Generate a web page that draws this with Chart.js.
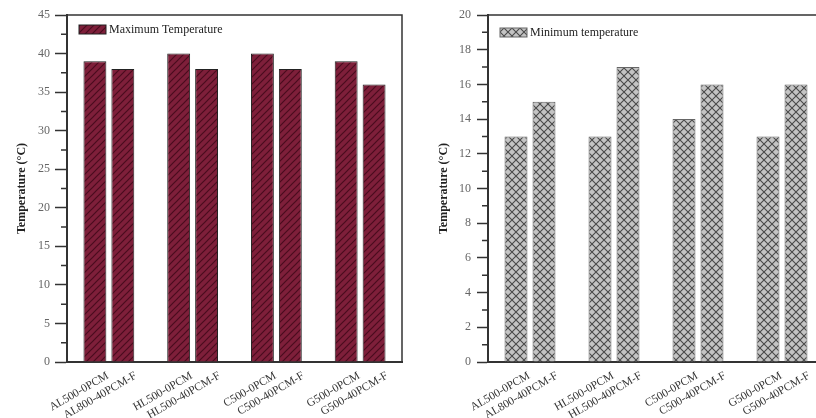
<!DOCTYPE html>
<html>
<head>
<meta charset="utf-8">
<script src="https://cdn.jsdelivr.net/npm/chart.js@4"></script>
<style>
html, body { margin: 0; padding: 0; background: #fff; overflow: hidden; width: 816px; height: 418px; }
#left { position: absolute; left: 0; top: 0; }
#right { position: absolute; left: 420px; top: 0; }
</style>
</head>
<body>
<canvas id="left" width="416" height="418"></canvas>
<canvas id="right" width="420" height="418"></canvas>
<script>
// ===== DATA =====
const samples = ['AL500-0PCM', 'AL800-40PCM-F', 'HL500-0PCM', 'HL500-40PCM-F',
                 'C500-0PCM', 'C500-40PCM-F', 'G500-0PCM', 'G500-40PCM-F'];
const maxTemp = [39, 38, 40, 38, 40, 38, 39, 36];
const minTemp = [13, 15, 13, 17, 14, 16, 13, 16];
const maxTicks = { min: 0, max: 45, step: 5 };
const minTicks = { min: 0, max: 20, step: 2 };

// pairs of bars with an empty slot before, between and after each pair
function padPairs(arr, blank) {
    const out = [blank];
    for (let i = 0; i < arr.length; i += 2) out.push(arr[i], arr[i + 1], blank);
    return out;
}

function stripes(bg, fg) {
    const c = document.createElement('canvas');
    c.width = 7; c.height = 7;
    const g = c.getContext('2d');
    g.fillStyle = bg; g.fillRect(0, 0, 7, 7);
    g.strokeStyle = fg; g.lineWidth = 1.2;
    g.beginPath();
    g.moveTo(-1, 8); g.lineTo(8, -1);
    g.moveTo(-1, 1); g.lineTo(1, -1);
    g.moveTo(6, 8); g.lineTo(8, 6);
    g.stroke();
    return g.createPattern(c, 'repeat');
}

function crosshatch(bg, fg) {
    const c = document.createElement('canvas');
    c.width = 8; c.height = 8;
    const g = c.getContext('2d');
    g.fillStyle = bg; g.fillRect(0, 0, 8, 8);
    g.strokeStyle = fg; g.lineWidth = 1.1;
    g.beginPath();
    g.moveTo(-1, 9); g.lineTo(9, -1);
    g.moveTo(-1, -1); g.lineTo(9, 9);
    g.stroke();
    return g.createPattern(c, 'repeat');
}

Chart.defaults.font.family = '"Liberation Serif", "Times New Roman", serif';
Chart.defaults.animation = false;

// frame, minor ticks and in-plot legend
const decor = {
    id: 'decor',
    afterDraw(chart, args, opts) {
        const { ctx, chartArea: a } = chart;
        const y = chart.scales.y;
        ctx.save();
        ctx.strokeStyle = '#333';
        ctx.lineWidth = 1.5;
        ctx.beginPath();
        ctx.moveTo(a.left, a.top);
        ctx.lineTo(a.right, a.top);
        ctx.lineTo(a.right, a.bottom);
        ctx.stroke();

        ctx.beginPath();
        for (let v = y.min + opts.minor; v < y.max; v += opts.minor * 2) {
            const py = y.getPixelForValue(v);
            ctx.moveTo(a.left - 6, py);
            ctx.lineTo(a.left, py);
        }
        ctx.stroke();

        const ds = chart.data.datasets[0];
        const lx = a.left + opts.lx, ly = a.top + opts.ly;
        ctx.fillStyle = ds.backgroundColor;
        ctx.fillRect(lx, ly, 27, 9);
        ctx.lineWidth = 1;
        ctx.strokeStyle = ds.borderColor;
        ctx.strokeRect(lx, ly, 27, 9);
        ctx.fillStyle = '#222';
        ctx.font = '12px "Liberation Serif", serif';
        ctx.textBaseline = 'middle';
        ctx.fillText(ds.label, lx + 30, ly + 5);
        ctx.restore();
    }
};

function makeChart(id, label, values, ticks, pattern, border, layout) {
    return new Chart(document.getElementById(id), {
        type: 'bar',
        data: {
            labels: padPairs(samples, ''),
            datasets: [{
                label: label,
                data: padPairs(values, null),
                backgroundColor: pattern,
                borderColor: border,
                borderWidth: 1,
                categoryPercentage: 1,
                barPercentage: 0.82
            }]
        },
        options: {
            responsive: false,
            layout: { padding: { top: 15, right: layout.right, left: 0, bottom: 0 } },
            plugins: {
                legend: { display: false },
                tooltip: { enabled: false },
                decor: { minor: ticks.step / 2, lx: 12, ly: layout.legendY }
            },
            scales: {
                x: {
                    offset: false,
                    grid: { display: false, drawTicks: false },
                    border: { display: true, color: '#333', width: 2 },
                    ticks: {
                        autoSkip: false,
                        minRotation: 30,
                        maxRotation: 30,
                        padding: 7,
                        labelOffset: 13,
                        color: '#333',
                        font: { size: 11.5 }
                    },
                    afterFit: s => { s.height = 56; s.paddingLeft = 0; s.paddingRight = 0; }
                },
                y: {
                    min: ticks.min,
                    max: ticks.max,
                    ticks: { stepSize: ticks.step, color: '#666', padding: layout.tickPad, font: { size: 12 } },
                    grid: { drawOnChartArea: false, tickLength: layout.tickLen, tickColor: '#333', tickWidth: 1.5 },
                    border: { color: '#333', width: 2 },
                    title: {
                        display: true,
                        text: 'Temperature (°C)',
                        color: '#222',
                        font: { size: 12, weight: 'bold' },
                        padding: { top: layout.titlePad, bottom: 0 }
                    },
                    afterFit: s => { s.width = layout.axisW; }
                }
            }
        },
        plugins: [decor]
    });
}

makeChart('left', 'Maximum Temperature', maxTemp, maxTicks,
    stripes('#7e1f3a', '#4a0c1e'), '#222',
    { right: 14, axisW: 67, titlePad: 15, tickLen: 12, tickPad: 5, legendY: 10 });

makeChart('right', 'Minimum temperature', minTemp, minTicks,
    crosshatch('#c4c4c4', '#4a4a4a'), '#666',
    { right: 16, axisW: 68, titlePad: 17, tickLen: 11, tickPad: 6, legendY: 13 });
</script>
</body>
</html>
